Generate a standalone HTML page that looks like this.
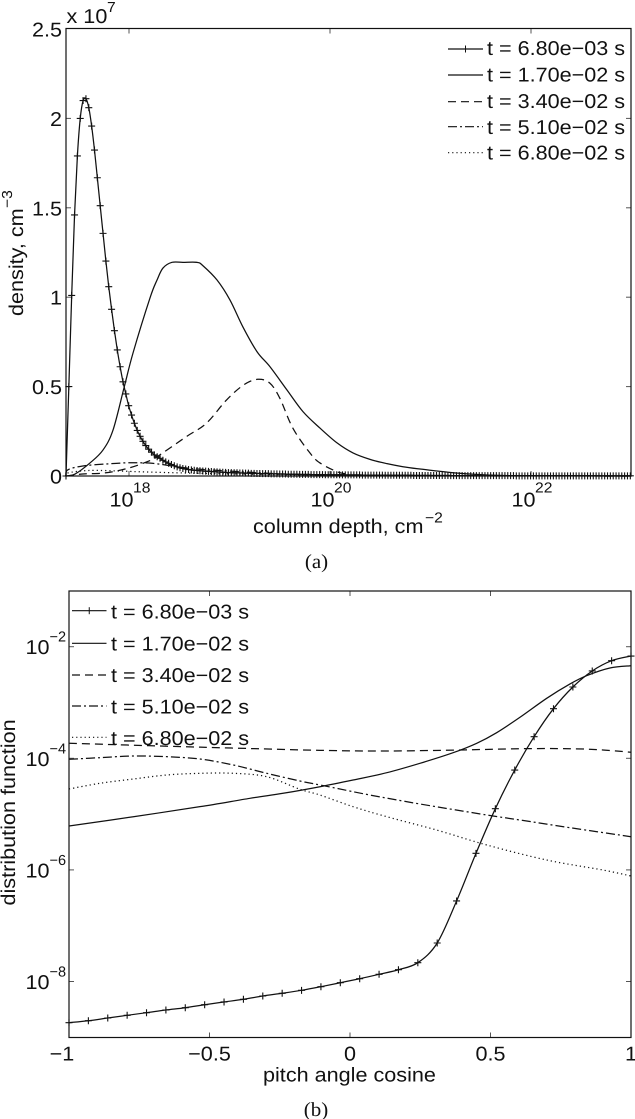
<!DOCTYPE html>
<html>
<head>
<meta charset="utf-8">
<title>Density and distribution function</title>
<style>
html,body{margin:0;padding:0;background:#fff;}
svg{display:block;}
</style>
</head>
<body>
<svg id="fig" xmlns="http://www.w3.org/2000/svg" width="635" height="1119" viewBox="0 0 635 1119"></svg>
<script>
// ---- Panel (a) data: log10 column depth, density in units of 1e7 cm^-3
const legendLabels = ["t = 6.80e−03 s","t = 1.70e−02 s","t = 3.40e−02 s","t = 5.10e−02 s","t = 6.80e−02 s"];
const densityYTicks = [0,0.5,1,1.5,2,2.5];
const densityYTickLabels = ["0","0.5","1","1.5","2","2.5"];
const depthTicks = [18,20,22];
const depthTickLabels = ["18","20","22"];
const depthGridStart = 17.373;
const depthGridStep = 0.02836;
const densityT1 = [0,.50,1.01,1.46,1.79,2.00,2.10,2.11,2.06,1.957,1.823,1.668,1.512,1.357,1.202,1.059,.932,.813,.705,.611,.527,.459,.393,.341,.295,.255,.222,.194,.17,.15,.133,.118,.108,.099,.088,.079,.071,.064,.057,.051,.046,.042,.039,.036,.034,.032,.031,.029,
.028,.027,.026,.025,.024,.023,.022,.021,.020,.019,
.019,.018,.018,.017,.017,.016,.016,.015,.015,.014,
.014,.013,.013,.013,.012,.012,.012,.011,.011,.011,
.010,.010,.010,.010,.009,.009,.009,.009,.008,.008,
.008,.008,.008,.007,.007,.007,.007,.007,.007,.006,
.006,.006,.006,.006,.006,.006,.005,.005,.005,.005,
.005,.005,.005,.005,.004,.004,.004,.004,.004,.004,
.004,.004,.004,.004,.003,.003,.003,.003,.003,.003,
.003,.003,.003,.003,.003,.003,.003,.002,.002,.002,
.002,.002,.002,.002,.002,.002,.002,.002,.002,.002,
.002,.002,.002,.002,.002,.002,.002,.002,.002,.002,
.001,.001,.001,.001,.001,.001,.001,.001,.001,.001,
.001,.001,.001,.001,.001,.001,.001,.001,.001,.001,
.001,.001,.001,.001,.001,.001,.001,.001,.001,.001,
.001,.001,.001,.001,.001,.001,.001,.001,.001,.001,
.001];
const depthT2 = [17.373,17.463,17.612,17.741,17.841,17.95,18.04,18.209,18.279,18.338,18.428,18.537,18.677,18.736,18.876,19.005,19.134,19.274,19.403,19.572,19.731,19.9,20.07,20.229,20.398,20.567,20.726,20.896,21.065,21.224,21.393,21.562,21.89,23];
const densityT2 = [0,.011,.073,.145,.257,.492,.688,.996,1.096,1.163,1.195,1.195,1.195,1.176,1.096,.984,.833,.695,.611,.481,.36,.268,.185,.129,.093,.069,.052,.039,.028,.018,.011,.0056,.0017,0];
const depthT3 = [17.373,17.54,17.77,18.0,18.2,18.28,18.57,18.77,18.97,19.14,19.28,19.40,19.50,19.63,19.80,19.90,20.07,20.17,20.33,23];
const densityT3 = [0,.011,.018,.045,.084,.108,.22,.295,.425,.509,.541,.52,.436,.268,.129,.073,.024,.011,.004,0];
const depthT4 = [17.373,17.39,17.54,17.77,18.0,18.23,18.43,18.60,18.93,19.71,20.7,23];
const densityT4 = [0,.034,.056,.067,.074,.071,.056,.043,.03,.008,.003,0];
const depthT5 = [17.373,17.39,17.6,17.9,18.1,18.7,19.7,20.7,23];
const densityT5 = [0,.017,.031,.028,.024,.015,.006,.002,0];

// ---- Panel (b) data: pitch angle cosine, log10 distribution function
const cosineTicks = [-1,-0.5,0,0.5,1];
const cosineTickLabels = ["−1","−0.5","0","0.5","1"];
const distTicks = [-8,-6,-4,-2];
const distTickLabels = ["−8","−6","−4","−2"];
const cosineGridStart = -1;
const cosineGridStep = 0.068966;
const distT1 = [-8.738,-8.703,-8.654,-8.606,-8.559,-8.511,-8.47,-8.416,-8.367,-8.319,-8.26,-8.211,-8.158,-8.093,-8.022,-7.95,-7.871,-7.789,-7.663,-7.31,-6.557,-5.703,-4.903,-4.21,-3.613,-3.111,-2.722,-2.435,-2.251,-2.167];
const cosineT2 = [-1,-.771,-.534,-.356,-.238,-.107,.011,.131,.249,.367,.451,.522,.605,.7,.783,.842,.925,1];
const distT2 = [-5.213,-5.047,-4.867,-4.717,-4.627,-4.509,-4.389,-4.258,-4.09,-3.9,-3.731,-3.541,-3.265,-2.925,-2.668,-2.52,-2.382,-2.341];
const cosineT3 = [-1,-.534,-.107,.131,.391,.605,.783,.9,1];
const distT3 = [-3.731,-3.8,-3.857,-3.869,-3.851,-3.828,-3.828,-3.851,-3.892];
const cosineT4 = [-1,-.89,-.771,-.652,-.534,-.415,-.296,-.178,-.107,-.048,.071,.249,.487,.605,.783,1];
const distT4 = [-4.018,-3.989,-3.959,-3.971,-4.013,-4.12,-4.269,-4.407,-4.478,-4.538,-4.658,-4.819,-5.016,-5.106,-5.244,-5.405];
const cosineT5 = [-1,-.89,-.771,-.652,-.534,-.415,-.296,-.178,-.107,.011,.131,.308,.487,.7,.9,1];
const distT5 = [-4.55,-4.448,-4.371,-4.299,-4.269,-4.269,-4.33,-4.556,-4.658,-4.867,-5.047,-5.285,-5.554,-5.823,-6.002,-6.109];

const svg = document.getElementById('fig');
const NS = 'http://www.w3.org/2000/svg';
const INK = '#111';
const SANS = '"Liberation Sans", sans-serif';
const SERIF = '"Liberation Serif", serif';

function make(tag, name, attrs) {
  const el = document.createElementNS(NS, tag);
  
  
  for (const k in attrs) el.setAttribute(k, attrs[k]);
  svg.appendChild(el);
  return el;
}
function txt(x, y, s, name, o) {
  o = o || {};
  const size = o.size || 20;
  const stretch = o.stretch || 1.08;
  const rot = o.rot ? ' rotate(-90)' : '';
  const el = make('text', name, {
    transform: 'translate(' + x + ',' + y + ')' + rot + ' scale(' + stretch + ',1)',
    'font-family': o.font || SANS,
    'font-size': size,
    'text-rendering': 'geometricPrecision',
    fill: INK,
    'text-anchor': o.anchor || 'start'
  });
  el.textContent = s;
  return el;
}
function line(x1, y1, x2, y2, name, color, w) {
  return make('line', name, {x1: x1, y1: y1, x2: x2, y2: y2, stroke: color || INK, 'stroke-width': w || 1});
}
// smooth path through the data points (Catmull-Rom to Bezier)
function curve(xs, ys, sx, sy, name, dash) {
  const p = [];
  for (let i = 0; i < xs.length && i < ys.length; i++) p.push([sx(xs[i]), sy(ys[i])]);
  let d = 'M' + p[0][0].toFixed(2) + ' ' + p[0][1].toFixed(2);
  for (let i = 0; i < p.length - 1; i++) {
    const a = p[Math.max(i - 1, 0)], b = p[i], c = p[i + 1], e = p[Math.min(i + 2, p.length - 1)];
    const c1x = b[0] + (c[0] - a[0]) / 6, c1y = b[1] + (c[1] - a[1]) / 6;
    const c2x = c[0] - (e[0] - b[0]) / 6, c2y = c[1] - (e[1] - b[1]) / 6;
    d += 'C' + c1x.toFixed(2) + ' ' + c1y.toFixed(2) + ' ' + c2x.toFixed(2) + ' ' + c2y.toFixed(2) + ' ' + c[0].toFixed(2) + ' ' + c[1].toFixed(2);
  }
  const attrs = {d: d, fill: 'none', stroke: INK, 'stroke-width': 1.25, 'stroke-linejoin': 'round'};
  if (dash) attrs['stroke-dasharray'] = dash;
  return make('path', name, attrs);
}
function plusMarks(xs, ys, sx, sy, name) {
  let d = '';
  for (let i = 0; i < xs.length && i < ys.length; i++) {
    const px = sx(xs[i]), py = sy(ys[i]);
    d += 'M' + (px - 3.5).toFixed(2) + ' ' + py.toFixed(2) + 'h7M' + px.toFixed(2) + ' ' + (py - 3.5).toFixed(2) + 'v7';
  }
  return make('path', name, {d: d, fill: 'none', stroke: INK, 'stroke-width': 1.1});
}
function gridFrom(start, step, n) {
  const out = [];
  for (let i = 0; i < n; i++) out.push(start + i * step);
  return out;
}

const DASHES = [null, null, '8 5', '9 3 2 3', '1.2 3'];

function legend(x1, x2, tx, lineYs, baseYs, prefix) {
  legendLabels.forEach(function (label, i) {
    line(x1, lineYs[i], x2, lineYs[i], prefix + '-legend-line-' + (i + 1), INK, 1.2);
    const l = svg.lastChild;
    if (DASHES[i]) l.setAttribute('stroke-dasharray', DASHES[i]);
    if (i === 0) {
      line((x1 + x2) / 2, lineYs[i] - 3.5, (x1 + x2) / 2, lineYs[i] + 3.5, prefix + '-legend-marker', INK, 1);
    }
    txt(tx, baseYs[i], label, prefix + '-legend-entry-' + (i + 1));
  });
}

// ---------- Panel (a)
const aL = 66, aR = 631, aT = 28.5, aB = 476;
const ax = v => 129 + 100.5 * (v - 18);
const ay = v => aB - 178.8 * v;

densityYTicks.forEach(function (v, i) {
  if (v > 0 && v < 2.5) {
    line(aL, ay(v), aL + 5, ay(v), 'density-tick-left', '#555');
    line(aR - 5, ay(v), aR, ay(v), 'density-tick-right', '#555');
  }
  txt(62, ay(v) + 7.5, densityYTickLabels[i], 'density-tick-label', {anchor: 'end'});
});
depthTicks.forEach(function (v, i) {
  line(ax(v), aB, ax(v), aB - 5, 'depth-tick-bottom', '#555');
  line(ax(v), aT, ax(v), aT + 5, 'depth-tick-top', '#555');
  txt(ax(v) - 19.5, 506.5, '10', 'depth-tick-label');
  txt(ax(v) + 4, 492.5, depthTickLabels[i], 'depth-tick-exponent', {size: 14.5, stretch: 1.08});
});

curve(depthT5, densityT5, ax, ay, 'density-series-t5', DASHES[4]);
curve(depthT4, densityT4, ax, ay, 'density-series-t4', DASHES[3]);
curve(depthT3, densityT3, ax, ay, 'density-series-t3', DASHES[2]);
curve(depthT2, densityT2, ax, ay, 'density-series-t2', null);
const depthGrid = gridFrom(depthGridStart, depthGridStep, densityT1.length);
curve(depthGrid, densityT1, ax, ay, 'density-series-t1', null);
plusMarks(depthGrid, densityT1, ax, ay, 'density-series-t1-markers');

make('rect', 'density-plot-frame', {x: aL, y: aT, width: aR - aL, height: aB - aT, fill: 'none', stroke: INK, 'stroke-width': 1.2});

txt(66.5, 23, 'x 10', 'density-scale-factor');
txt(107, 12, '7', 'density-scale-exponent', {size: 14.5, stretch: 1.08});
txt(253, 533, 'column depth, cm', 'depth-axis-title');
txt(425, 522.5, '−2', 'depth-axis-title-exponent', {size: 14.5, stretch: 1.08});
txt(23, 316, 'density, cm', 'density-axis-title', {rot: true});
txt(12, 208, '−3', 'density-axis-title-exponent', {rot: true, size: 14.5, stretch: 1.08});
txt(316.5, 568, '(a)', 'panel-a-caption', {font: SERIF, anchor: 'middle', stretch: 1.05});

legend(448, 483, 487, [49, 75, 101.7, 126.7, 152.7], [55, 81.7, 108, 134, 159.5], 'density');

// ---------- Panel (b)
const bL = 69, bR = 631, bT = 591, bB = 1037.5;
const bx = v => 350 + 281 * v;
const by = v => 758.3 - 55.8 * (v + 4);

cosineTicks.forEach(function (v, i) {
  if (v > -1 && v < 1) {
    line(bx(v), bB, bx(v), bB - 5, 'cosine-tick-bottom', '#555');
    line(bx(v), bT, bx(v), bT + 5, 'cosine-tick-top', '#555');
  }
  txt(bx(v) - (i === 0 ? 7 : 0), 1060.5, cosineTickLabels[i], 'cosine-tick-label', {anchor: 'middle'});
});
distTicks.forEach(function (v, i) {
  line(bL, by(v), bL + 5, by(v), 'distribution-tick-left', '#555');
  line(bR - 5, by(v), bR, by(v), 'distribution-tick-right', '#555');
  txt(25.5, by(v) + 7.5, '10', 'distribution-tick-label');
  txt(49.5, by(v) - 5, distTickLabels[i], 'distribution-tick-exponent', {size: 14.5, stretch: 1});
});

curve(cosineT5, distT5, bx, by, 'distribution-series-t5', DASHES[4]);
curve(cosineT4, distT4, bx, by, 'distribution-series-t4', DASHES[3]);
curve(cosineT3, distT3, bx, by, 'distribution-series-t3', DASHES[2]);
curve(cosineT2, distT2, bx, by, 'distribution-series-t2', null);
const cosineGrid = gridFrom(cosineGridStart, cosineGridStep, distT1.length);
curve(cosineGrid, distT1, bx, by, 'distribution-series-t1', null);
plusMarks(cosineGrid, distT1, bx, by, 'distribution-series-t1-markers');

make('rect', 'distribution-plot-frame', {x: bL, y: bT, width: bR - bL, height: bB - bT, fill: 'none', stroke: INK, 'stroke-width': 1.2});

txt(263, 1081.5, 'pitch angle cosine', 'cosine-axis-title');
txt(15, 905.5, 'distribution function', 'distribution-axis-title', {rot: true});
txt(316, 1116, '(b)', 'panel-b-caption', {font: SERIF, anchor: 'middle', stretch: 1.05});

legend(72, 106.5, 111, [610.7, 643.3, 675, 706, 737.3], [618.5, 650.5, 682, 713.5, 745], 'distribution');
</script>
</body>
</html>
